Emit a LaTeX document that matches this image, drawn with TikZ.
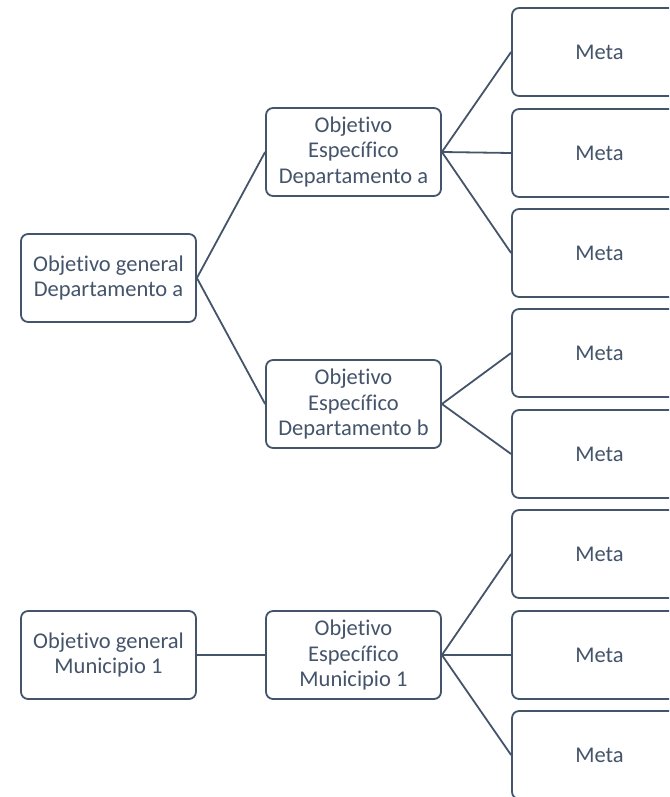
\documentclass[tikz,border=0pt]{standalone}
\usepackage{fontspec}
\setmainfont{Carlito}[Ligatures=NoCommon]
\usepackage{tikz}
\usepackage{xcolor}
\definecolor{slate}{HTML}{44546A}

\begin{document}
\begin{tikzpicture}[x=1pt,y=-1pt,
    objbox/.style={shape=rectangle,
      rounded corners=2.5mm,
      draw=slate,
      line width=1.8pt,
      fill=white,
      text=slate,
      align=center,
      font=\fontsize{22.5}{25.5}\selectfont,
      minimum height = 88pt,
      minimum width = 175pt},
    link/.style={draw=slate,line width=1.8pt}]
      \useasboundingbox (0,0) rectangle (669,797);
      \clip (0,0) rectangle (669,797);

      % left column
      \node[objbox] (genA) at (108.5,278) {Objetivo general\\Departamento a};
      \node[objbox] (genM) at (108.5,655) {Objetivo general\\Municipio 1};

      % middle column
      \node[objbox] (espA) at (353.5,152) {Objetivo\\Espec\'ifico\\Departamento a};
      \node[objbox] (espB) at (353.5,404) {Objetivo\\Espec\'ifico\\Departamento b};
      \node[objbox] (espM) at (353.5,655) {Objetivo\\Espec\'ifico\\Municipio 1};

      % metas
      \foreach \i/\y in {1/52,2/153,3/253,4/353,5/454,6/554,7/655,8/755}
        \node[objbox] (meta\i) at (599.5,\y) {Meta};

      \draw[link] (genA.east) -- (espA.west);
      \draw[link] (genA.east) -- (espB.west);
      \draw[link] (genM.east) -- (espM.west);

      \foreach \i in {1,2,3}
        \draw[link] (espA.east) -- (meta\i.west);
      \foreach \i in {4,5}
        \draw[link] (espB.east) -- (meta\i.west);
      \foreach \i in {6,7,8}
        \draw[link] (espM.east) -- (meta\i.west);

    \end{tikzpicture}
\end{document}
